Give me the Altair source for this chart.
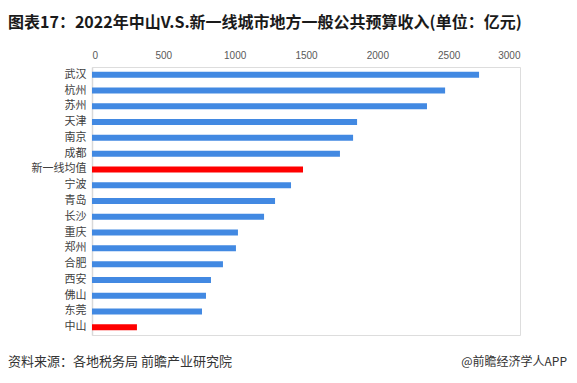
import altair as alt
import pandas as pd

cities = ["武汉", "杭州", "苏州", "天津", "南京", "成都", "新一线均值", "宁波", "青岛", "长沙",
          "重庆", "郑州", "合肥", "西安", "佛山", "东莞", "中山"]
values = [2713, 2475, 2348, 1858, 1830, 1738, 1479, 1395, 1283, 1206,
          1023, 1009, 918, 834, 799, 771, 315]
highlight = ["新一线均值", "中山"]

df = pd.DataFrame({"city": cities, "value": values})
df["kind"] = ["hl" if c in highlight else "normal" for c in cities]

FONT = "Noto Sans CJK SC"

bars = alt.Chart(df).mark_bar().encode(
    y=alt.Y("city:N", sort=cities, title=None,
            scale=alt.Scale(paddingInner=0.62, paddingOuter=0.3),
            axis=alt.Axis(labelFont=FONT, labelFontSize=11, labelColor="#404040",
                          ticks=False, domainColor="#D9D9D9", domainWidth=1.5,
                          labelPadding=6)),
    x=alt.X("value:Q", title=None,
            scale=alt.Scale(domain=[0, 3000], nice=False),
            axis=alt.Axis(orient="top", values=[0, 500, 1000, 1500, 2000, 2500, 3000],
                          format="d", grid=False, domain=False, ticks=False,
                          labelFont="Liberation Sans", labelFontSize=10, labelColor="#595959",
                          labelPadding=7)),
    color=alt.Color("kind:N", scale=alt.Scale(domain=["normal", "hl"],
                                              range=["#4289E2", "#FF0000"]),
                    legend=None),
)

title = alt.Chart(pd.DataFrame({"t": ["图表17：2022年中山V.S.新一线城市地方一般公共预算收入(单位：亿元)"]})).mark_text(
    align="left", baseline="middle", font=FONT, fontSize=16, fontWeight="bold", color="#1a1a1a"
).encode(text="t:N", x=alt.value(-84), y=alt.value(-44))

source = alt.Chart(pd.DataFrame({"t": ["资料来源：各地税务局 前瞻产业研究院"]})).mark_text(
    align="left", baseline="middle", font=FONT, fontSize=13, color="#333333"
).encode(text="t:N", x=alt.value(-84), y=alt.value(295))

credit = alt.Chart(pd.DataFrame({"t": ["@前瞻经济学人APP"]})).mark_text(
    align="right", baseline="middle", font=FONT, fontSize=12, color="#333333"
).encode(text="t:N", x=alt.value(475), y=alt.value(295))

chart = alt.layer(bars, title, source, credit).properties(
    width=428, height=268,
    autosize=alt.AutoSizeParams(type="none"),
    padding={"left": 84, "top": 59, "right": 47, "bottom": 34},
).configure_view(stroke=None).configure(background="white")

chart.save("out.html", embed_options={"renderer": "svg", "actions": False})
